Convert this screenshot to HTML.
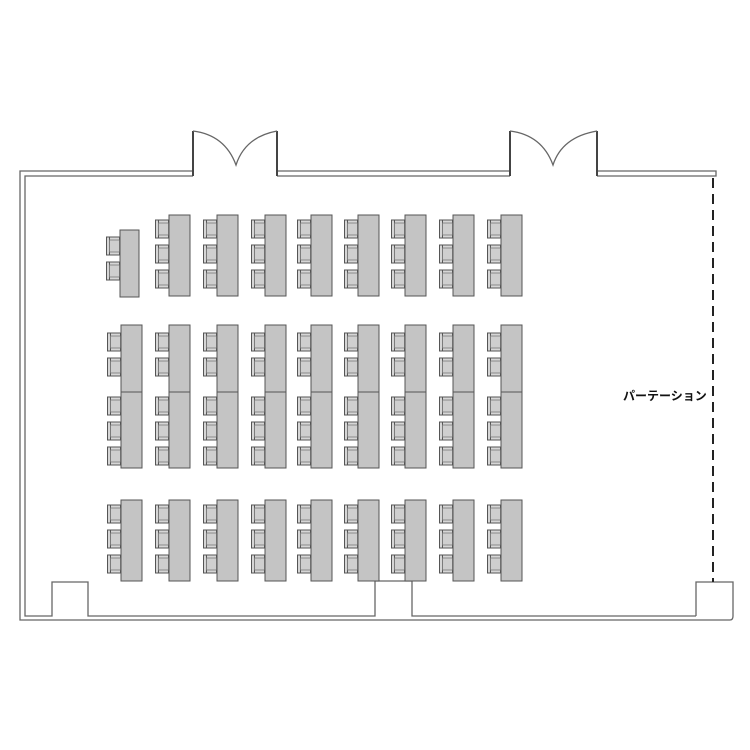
<!DOCTYPE html>
<html><head><meta charset="utf-8"><style>html,body{margin:0;padding:0;background:#fff}svg{display:block}</style></head>
<body>
<svg width="750" height="750" viewBox="0 0 750 750" xmlns="http://www.w3.org/2000/svg">
<defs>
<g id="c"><rect x="0.5" y="0" width="13" height="18" fill="#d6d6d6" stroke="#555" stroke-width="1"/><line x1="3.5" y1="0" x2="3.5" y2="18" stroke="#555"/><rect x="3.5" y="3" width="10" height="12" fill="#cfcfcf" stroke="#777" stroke-width="0.8"/></g>
<g id="t3"><use href="#c" x="-14" y="5"/><use href="#c" x="-14" y="30"/><use href="#c" x="-14" y="55"/><rect x="0" y="0" width="21" height="81" fill="#c4c4c4" stroke="#555"/></g>
<g id="m"><use href="#c" x="-14" y="8"/><use href="#c" x="-14" y="33"/><rect x="0" y="0" width="21" height="67" fill="#c4c4c4" stroke="#555"/>
<use href="#c" x="-14" y="72"/><use href="#c" x="-14" y="97"/><use href="#c" x="-14" y="122"/><rect x="0" y="67" width="21" height="76" fill="#c4c4c4" stroke="#555"/></g>
</defs>
<g fill="none" stroke="#666" stroke-width="1.3">
<path d="M193,171 H20 V620 H730 Q733,620 733,616 V582 H696 V616"/>
<path d="M193,176 H25 V616 H52 V582 H88 V616 H375 V581"/>
<path d="M412,581 V616 H696"/>
<path d="M277,171 H510 M277,176 H510 M597,171 H716 V176 H597"/>
<path d="M193,176 V131 M277,176 V131 M510,176 V131 M597,176 V131" stroke="#444" stroke-width="2"/>
<path d="M193,131 Q225,135 236,165 Q245,137 277,131"/>
<path d="M510,131 Q542,135 553,165 Q562,137 597,131"/>
<line x1="375" y1="581" x2="412" y2="581"/>
</g>
<line x1="713" y1="178" x2="713" y2="582" stroke="#222" stroke-width="2" stroke-dasharray="10,6"/>
<text x="623" y="400" font-family="'Liberation Sans','Noto Sans CJK JP',sans-serif" font-size="12" font-weight="bold" fill="#111">パーテーション</text>
<g>
<use href="#c" x="106" y="237"/><use href="#c" x="106" y="262"/><rect x="120" y="230" width="19" height="67" fill="#c4c4c4" stroke="#555"/>
<use href="#t3" x="169" y="215"/><use href="#t3" x="217" y="215"/><use href="#t3" x="265" y="215"/><use href="#t3" x="311" y="215"/><use href="#t3" x="358" y="215"/><use href="#t3" x="405" y="215"/><use href="#t3" x="453" y="215"/><use href="#t3" x="501" y="215"/>
</g>
<g>
<use href="#m" x="121" y="325"/><use href="#m" x="169" y="325"/><use href="#m" x="217" y="325"/><use href="#m" x="265" y="325"/><use href="#m" x="311" y="325"/><use href="#m" x="358" y="325"/><use href="#m" x="405" y="325"/><use href="#m" x="453" y="325"/><use href="#m" x="501" y="325"/>
</g>
<g>
<use href="#t3" x="121" y="500"/><use href="#t3" x="169" y="500"/><use href="#t3" x="217" y="500"/><use href="#t3" x="265" y="500"/><use href="#t3" x="311" y="500"/><use href="#t3" x="358" y="500"/><use href="#t3" x="405" y="500"/><use href="#t3" x="453" y="500"/><use href="#t3" x="501" y="500"/>
</g>
</svg>
</body></html>
